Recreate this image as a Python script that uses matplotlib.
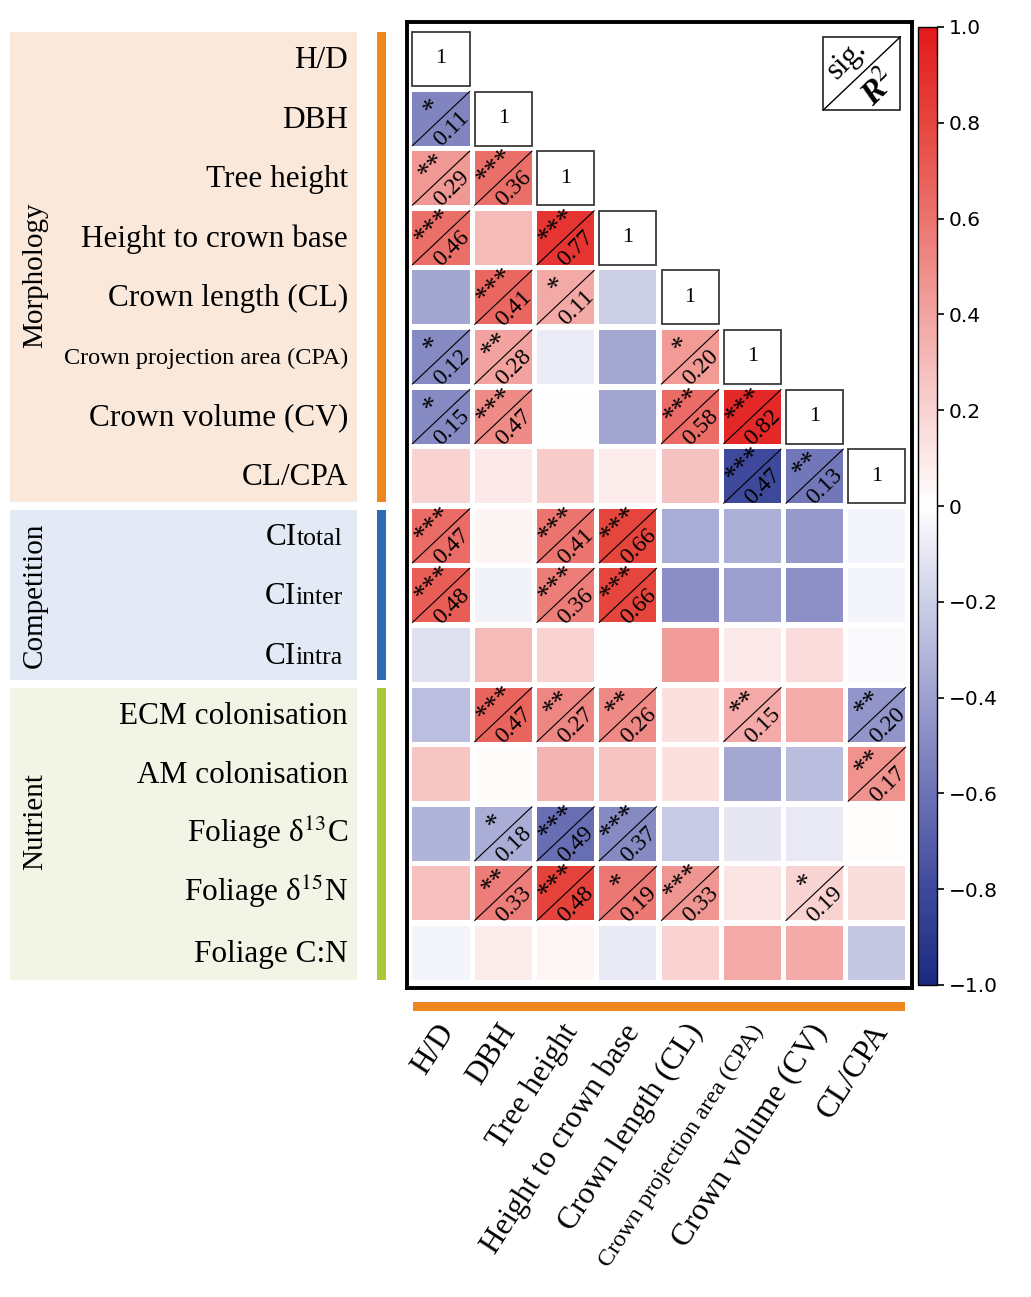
import numpy as np
import matplotlib
matplotlib.use('Agg')
import matplotlib.pyplot as plt
from matplotlib.colors import LinearSegmentedColormap, Normalize
from matplotlib.patches import Rectangle
import matplotlib.cm as cm

plt.rcParams['mathtext.fontset'] = 'stix'
SERIF = ['Liberation Serif', 'DejaVu Serif']

# ---------------- data ----------------
row_labels = ['H/D', 'DBH', 'Tree height', 'Height to crown base', 'Crown length (CL)',
              'Crown projection area (CPA)', 'Crown volume (CV)', 'CL/CPA',
              'CItotal', 'CIinter', 'CIintra',
              'ECM colonisation', 'AM colonisation', 'Foliage δ$^{13}$C',
              'Foliage δ$^{15}$N', 'Foliage C:N']
col_labels = ['H/D', 'DBH', 'Tree height', 'Height to crown base', 'Crown length (CL)',
              'Crown projection area (CPA)', 'Crown volume (CV)', 'CL/CPA']
group_names = ['Morphology', 'Competition', 'Nutrient']
group_rows = [(0, 7), (8, 10), (11, 15)]

# correlation coefficients (lower triangle rows 0-7, full rows 8-15)
r_vals = [
    [],
    [-0.52],
    [0.45, 0.62],
    [0.62, 0.30, 0.88],
    [-0.38, 0.66, 0.38, -0.20],
    [-0.50, 0.40, -0.08, -0.37, 0.44],
    [-0.50, 0.50, 0.00, -0.38, 0.64, 0.93],
    [0.20, 0.10, 0.23, 0.08, 0.27, -0.80, -0.58],
    [0.64, 0.05, 0.60, 0.80, -0.35, -0.34, -0.43, -0.04],
    [0.70, -0.05, 0.56, 0.80, -0.48, -0.40, -0.47, -0.04],
    [-0.13, 0.30, 0.20, 0.00, 0.43, 0.10, 0.16, -0.02],
    [-0.27, 0.67, 0.52, 0.51, 0.14, 0.37, 0.36, -0.45],
    [0.25, 0.02, 0.33, 0.26, 0.14, -0.37, -0.28, 0.47],
    [-0.32, -0.35, -0.62, -0.50, -0.22, -0.10, -0.09, 0.01],
    [0.28, 0.56, 0.82, 0.58, 0.46, 0.12, 0.20, 0.15],
    [-0.04, 0.09, 0.04, -0.09, 0.20, 0.38, 0.37, -0.23],
]
sig_vals = [
    [],
    ['*'],
    ['**', '***'],
    ['***', '', '***'],
    ['', '***', '*', ''],
    ['*', '**', '', '', '*'],
    ['*', '***', '', '', '***', '***'],
    ['', '', '', '', '', '***', '**'],
    ['***', '', '***', '***', '', '', '', ''],
    ['***', '', '***', '***', '', '', '', ''],
    ['', '', '', '', '', '', '', ''],
    ['', '***', '**', '**', '', '**', '', '**'],
    ['', '', '', '', '', '', '', '**'],
    ['', '*', '***', '***', '', '', '', ''],
    ['', '**', '***', '*', '***', '', '*', ''],
    ['', '', '', '', '', '', '', ''],
]
r2_vals = [
    [],
    [0.11],
    [0.29, 0.36],
    [0.46, None, 0.77],
    [None, 0.41, 0.11, None],
    [0.12, 0.28, None, None, 0.20],
    [0.15, 0.47, None, None, 0.58, 0.82],
    [None, None, None, None, None, 0.47, 0.13],
    [0.47, None, 0.41, 0.66, None, None, None, None],
    [0.48, None, 0.36, 0.66, None, None, None, None],
    [None] * 8,
    [None, 0.47, 0.27, 0.26, None, 0.15, None, 0.20],
    [None, None, None, None, None, None, None, 0.17],
    [None, 0.18, 0.49, 0.37, None, None, None, None],
    [None, 0.33, 0.48, 0.19, 0.33, None, 0.19, None],
    [None] * 8,
]
cbar_ticks = [1.0, 0.8, 0.6, 0.4, 0.2, 0.0, -0.2, -0.4, -0.6, -0.8, -1.0]
cbar_ticklabels = ['1.0', '0.8', '0.6', '0.4', '0.2', '0', '\u22120.2', '\u22120.4',
                   '\u22120.6', '\u22120.8', '\u22121.0']

# ---------------- style ----------------
cmap = LinearSegmentedColormap.from_list('rb', [
    (0.0, '#1b2a80'), (0.1, '#3f4a9c'), (0.2, '#6d73b6'), (0.3, '#9ea1cf'),
    (0.4, '#cdcfe7'), (0.5, '#ffffff'), (0.6, '#f8d3d2'), (0.7, '#f2a4a1'),
    (0.8, '#ec746f'), (0.9, '#e6463f'), (1.0, '#e31a1c')])
norm = Normalize(-1, 1)

W, H = 1031, 1297
fig = plt.figure(figsize=(W / 100, H / 100), dpi=100)

def fx(px):
    return px / W

def fy(py):
    return 1 - py / H

# group backgrounds and bars
bg_cols = ['#fae8da', '#e3eaf6', '#f2f4e6']
bar_cols = ['#ef861e', '#2d6db5', '#a9c83a']
panel_y = [(32, 502), (510, 680), (688, 980)]
grp_label_y = [275, 595, 822]
for k in range(3):
    y0, y1 = panel_y[k]
    fig.patches.append(Rectangle((fx(10), fy(y1)), fx(357) - fx(10), fy(y0) - fy(y1),
                                 transform=fig.transFigure, facecolor=bg_cols[k],
                                 edgecolor='none', zorder=0))
    fig.patches.append(Rectangle((fx(377), fy(y1)), fx(9), fy(y0) - fy(y1),
                                 transform=fig.transFigure, facecolor=bar_cols[k],
                                 edgecolor='none', zorder=0))
    fig.text(fx(35), fy(grp_label_y[k]), group_names[k], rotation=90, ha='center',
             va='center', fontsize=21, family=SERIF)

# bottom orange bar
fig.patches.append(Rectangle((fx(413), fy(1011)), fx(905) - fx(413), fy(1002) - fy(1011),
                             transform=fig.transFigure, facecolor='#ef861e',
                             edgecolor='none', zorder=0))

# heatmap axes
ax = fig.add_axes([fx(407), fy(988), fx(912) - fx(407), fy(22) - fy(988)])
ax.set_xlim(-0.047, 8.064)
ax.set_ylim(16.087, -0.12)
ax.set_xticks([])
ax.set_yticks([])
for s in ax.spines.values():
    s.set_linewidth(2.8)
    s.set_color('black')

cw, ch = 0.918, 0.906
mx, my = (1 - cw) / 2, (1 - ch) / 2
for i in range(16):
    for j in range(len(r_vals[i])):
        r = r_vals[i][j]
        ax.add_patch(Rectangle((j + mx, i + my), cw, ch, facecolor=cmap(norm(r)),
                               edgecolor='none'))
        s = sig_vals[i][j]
        if s:
            ax.plot([j + mx, j + mx + cw], [i + my + ch, i + my], color='black', lw=0.8)
            ax.text(j + 0.37, i + 0.32, s, rotation=45, ha='center', va='center',
                    fontsize=20, family=SERIF, rotation_mode='anchor')
            ax.text(j + 0.67, i + 0.68, '%.2f' % r2_vals[i][j], rotation=45,
                    ha='center', va='center', fontsize=17, family=SERIF,
                    rotation_mode='anchor')
    if i < 8:
        ax.add_patch(Rectangle((i + mx, i + my), cw, ch, facecolor='white',
                               edgecolor='#3a3a3a', lw=1.3))
        ax.text(i + 0.5, i + 0.5, '1', ha='center', va='center', fontsize=16,
                family=SERIF)

# legend box (sig. / R2)
lx0, lx1, ly0, ly1 = 6.64, 7.876, 0.13, 1.356
ax.add_patch(Rectangle((lx0, ly0), lx1 - lx0, ly1 - ly0, facecolor='white',
                       edgecolor='#222222', lw=1.2))
ax.plot([lx0, lx1], [ly1, ly0], color='black', lw=1.0)
ax.text(lx0 + 0.31 * (lx1 - lx0), ly0 + 0.31 * (ly1 - ly0), 'sig.', rotation=45,
        ha='center', va='center', fontsize=22, family=SERIF, rotation_mode='anchor')
ax.text(lx0 + 0.73 * (lx1 - lx0), ly0 + 0.70 * (ly1 - ly0), 'R$^{2}$', rotation=45,
        ha='center', va='center', fontsize=24, family=SERIF, fontweight='bold',
        style='italic', rotation_mode='anchor')

# row labels
renderer = fig.canvas.get_renderer()
xr = 348
for i, lab in enumerate(row_labels):
    yc = 29.2 + 59.6 * (i + 0.5)
    if lab.startswith('CI'):
        t = fig.text(fx(343), fy(yc + 9), lab[2:], ha='right', va='baseline',
                     fontsize=18.5, family=SERIF)
        bb = t.get_window_extent(renderer)
        fig.text(bb.x0 / W, fy(yc + 9), 'CI', ha='right', va='baseline',
                 fontsize=22.5, family=SERIF)
    else:
        fs = 17.5 if i == 5 else 22.5
        fig.text(fx(xr), fy(yc + (7 if i == 5 else 9)), lab, ha='right',
                 va='baseline', fontsize=fs, family=SERIF)

# column labels
for j, lab in enumerate(col_labels):
    xc = 409.9 + 62.1 * (j + 0.5) + 7
    fs = 17.5 if j == 5 else 22.5
    fig.text(fx(xc), fy(1027), lab, rotation=57, rotation_mode='anchor', ha='right',
             va='center', fontsize=fs, family=SERIF)

# colorbar
cax = fig.add_axes([fx(918), fy(985), fx(937) - fx(918), fy(27) - fy(985)])
sm = cm.ScalarMappable(norm=norm, cmap=cmap)
cb = fig.colorbar(sm, cax=cax, orientation='vertical')
cb.set_ticks(cbar_ticks)
cb.set_ticklabels(cbar_ticklabels)
cb.outline.set_linewidth(1.0)
cax.tick_params(labelsize=14.5, length=5, width=1.2, direction='out')

fig.savefig('out.png', dpi=100)
